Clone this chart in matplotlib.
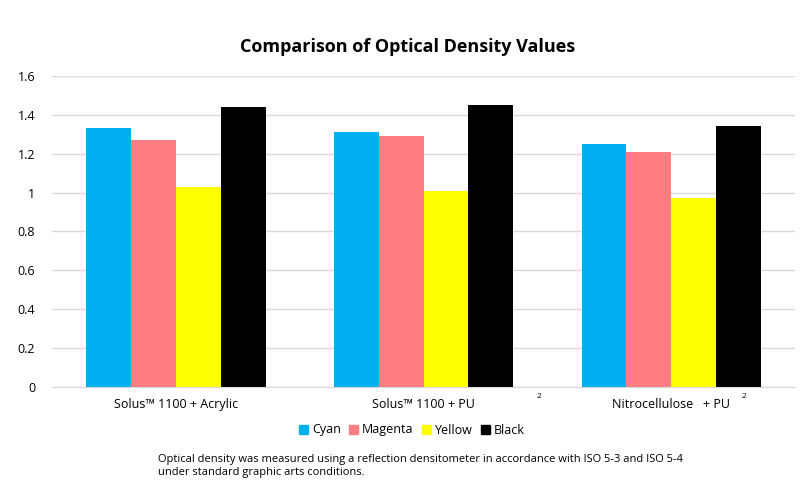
import numpy as np
import matplotlib.pyplot as plt
from matplotlib.patches import Patch

plt.rcParams['font.family'] = ['Open Sans', 'DejaVu Sans']

categories = ["Solus\u2122 1100 + Acrylic", "Solus\u2122 1100 + PU", "Nitrocellulose   + PU"]
series = ["Cyan", "Magenta", "Yellow", "Black"]
cyan = [1.33, 1.31, 1.25]
magenta = [1.27, 1.29, 1.21]
yellow = [1.03, 1.01, 0.97]
black = [1.44, 1.45, 1.34]
colors = ["#00b0f0", "#ff7c80", "#ffff00", "#000000"]
yticks = [0, 0.2, 0.4, 0.6, 0.8, 1, 1.2, 1.4, 1.6]

fig = plt.figure(figsize=(8, 4.96), dpi=100)
ax = fig.add_axes([0.065, 0.22, 0.929, 0.627])

x = np.arange(len(categories))
w = 0.181
for i, (vals, c) in enumerate(zip([cyan, magenta, yellow, black], colors)):
    ax.bar(x + (i - 1.5) * w, vals, width=w, color=c, zorder=2)

ax.set_xlim(-0.5, 2.5)
ax.set_ylim(0, 1.6)
ax.set_yticks(yticks)
ax.set_yticklabels([f"{v:g}" for v in yticks], fontsize=9)
ax.set_xticks(x)
ax.set_xticklabels(categories, fontsize=9)
ax.tick_params(length=0, pad=8)
ax.tick_params(axis='y', pad=12)
ax.grid(axis='y', color='#d9d9d9', linewidth=1, zorder=0)
for s in ['top', 'right', 'left']:
    ax.spines[s].set_visible(False)
ax.spines['bottom'].set_color('#d9d9d9')

# stray superscripts from the original
fig.text(539 / 800, 1 - 397 / 496, "2", fontsize=6, ha='center', va='center')
fig.text(744 / 800, 1 - 397 / 496, "2", fontsize=6, ha='center', va='center')

fig.text(0.51, 1 - 47 / 496, "Comparison of Optical Density Values",
         fontsize=13, fontweight='bold', ha='center', va='center')

handles = [Patch(color=c) for c in colors]
fig.legend(handles, series, loc='center', bbox_to_anchor=(0.515, 1 - 430 / 496),
           ncol=4, frameon=False, fontsize=9, handlelength=0.7, handleheight=0.7,
           handletextpad=0.3, columnspacing=0.7)

fig.text(158 / 800, 1 - 466 / 496,
         "Optical density was measured using a reflection densitometer in accordance with ISO 5-3 and ISO 5-4\n"
         "under standard graphic arts conditions.",
         fontsize=8, ha='left', va='center', linespacing=1.35)

fig.savefig("out.png", dpi=100)
